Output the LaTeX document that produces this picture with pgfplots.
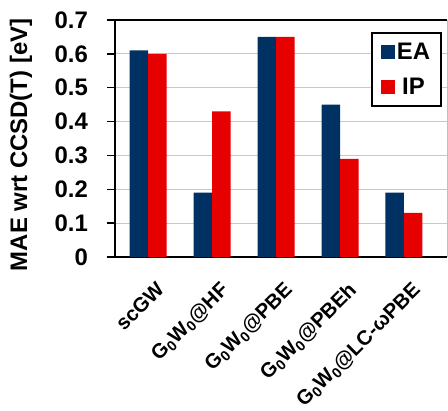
\documentclass[border=0pt]{standalone}
\usepackage{fontspec}
\setmainfont{Liberation Sans}
\usepackage{pgfplots}
\pgfplotsset{compat=1.18}
\definecolor{ea}{RGB}{0,49,99}
\definecolor{ip}{RGB}{230,0,0}
\begin{document}
\begin{tikzpicture}
\begin{axis}[
  scale only axis,
  width=332bp, height=237bp,
  ybar=0pt, bar width=18.5bp,
  xmin=-0.516, xmax=4.672,
  ymin=0, ymax=0.7,
  ytick={0,0.1,0.2,0.3,0.4,0.5,0.6,0.7},
  yticklabels={0,0.1,0.2,0.3,0.4,0.5,0.6,0.7},
  xtick={0,1,2,3,4},
  xticklabels={scGW, G\textsubscript{0}W\textsubscript{0}@HF, G\textsubscript{0}W\textsubscript{0}@PBE, G\textsubscript{0}W\textsubscript{0}@PBEh, G\textsubscript{0}W\textsubscript{0}@LC-ωPBE},
  x tick label style={rotate=45, anchor=north east, inner sep=0pt, xshift=-6bp, yshift=-16bp, font=\bfseries\fontsize{20.5}{22}\selectfont},
  y tick label style={inner sep=0pt, xshift=-19bp, font=\bfseries\fontsize{24}{26}\selectfont},
  major x tick style={draw=none},
  tick align=outside,
  ytick style={line width=1.4pt, black},
  major tick length=8bp,
  ymajorgrids,
  grid style={black!22, line width=0.9pt},
  axis line style={line width=1.8pt},
  axis x line*=bottom,
  axis y line*=left,
  ylabel={MAE wrt CCSD(T) [eV]},
  every axis y label/.style={at={(axis description cs:-0.265,0.473)}, rotate=90, anchor=base, inner sep=0pt, font=\bfseries\fontsize{24}{26}\selectfont},
  legend style={at={(axis description cs:0.985,0.949)}, anchor=north east, draw=black, line width=1.8pt,
    font=\bfseries\fontsize{24}{26}\selectfont, row sep=13bp, inner xsep=9bp, inner ysep=8bp,
    nodes={inner sep=2bp}},
  legend image code/.code={\fill[#1, draw=none] (2bp,-7bp) rectangle (16bp,7bp);},
  after end axis/.code={
    \draw[black!25, line width=1pt] (rel axis cs:1,0) -- (rel axis cs:1,1);
    \draw[black, line width=1.8pt] (rel axis cs:0,1) -- (rel axis cs:1,1);
    \coordinate (SW) at (rel axis cs:0,0);
    \coordinate (NE) at (rel axis cs:1,1);
  },
]
\addplot[fill=ea, draw=none] coordinates {(0,0.61) (1,0.19) (2,0.65) (3,0.45) (4,0.19)};
\addplot[fill=ip, draw=none] coordinates {(0,0.60) (1,0.43) (2,0.65) (3,0.29) (4,0.13)};
\legend{EA, IP}
\end{axis}
\pgfresetboundingbox
\path[use as bounding box] ([shift={(-115bp,-154bp)}]SW) rectangle ([shift={(1bp,20bp)}]NE);
\end{tikzpicture}
\end{document}
